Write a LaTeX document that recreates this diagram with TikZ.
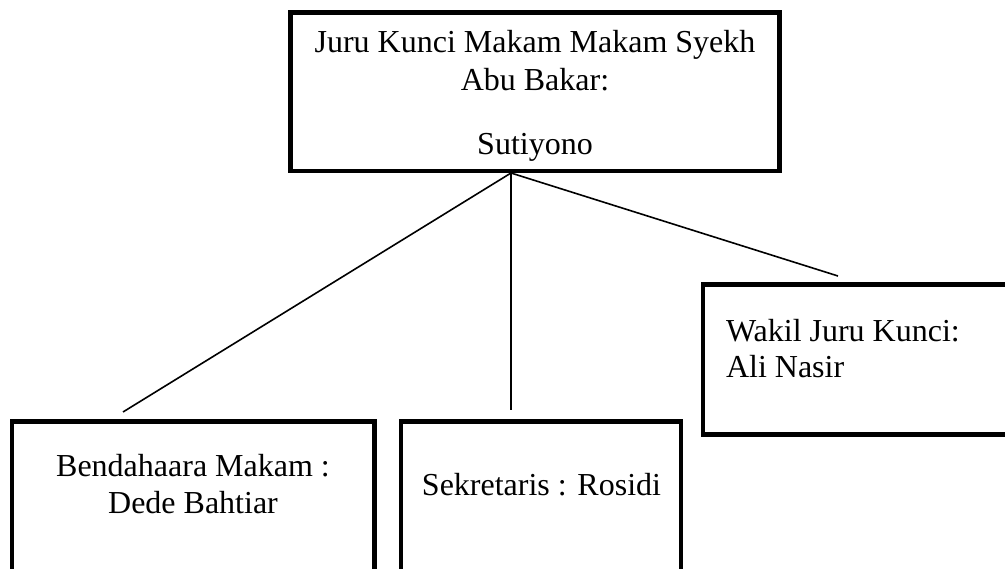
\documentclass[tikz,border=0pt]{standalone}
\usepackage{fontspec}
\setmainfont{Liberation Serif}
\begin{document}
\begin{tikzpicture}[x=1pt,y=-1pt,
  box/.style={draw=black,line width=4.8pt,inner sep=0pt,outer sep=0pt,fill=white},
  txt/.style={inner sep=0pt,outer sep=0pt,anchor=base,font=\fontsize{32}{38}\selectfont},
  link/.style={draw=black,line width=1.6pt}]
\useasboundingbox (0,0) rectangle (1005,569);
\clip (0,0) rectangle (1005,569);
\fill[white] (0,0) rectangle (1005,569);
% boxes
\node[box,minimum width=489pt,minimum height=158.5pt] (top) at (535,91.75) {};
\node[box,minimum width=337pt,minimum height=150pt] (wakil) at (871.5,359.5) {};
\node[box,minimum width=362.5pt,minimum height=178.5pt] (bend) at (193.25,510.75) {};
\node[box,minimum width=280pt,minimum height=178.5pt] (sekr) at (541,510.75) {};
% texts
\node[txt] (t1) at (535,53) {Juru Kunci Makam Makam Syekh};
\node[txt] (t2) at (535,90.7) {Abu Bakar:};
\node[txt] (t3) at (535,155) {Sutiyono};
\node[txt,anchor=base west] (w1t) at (726,342) {Wakil Juru Kunci:};
\node[txt,anchor=base west] (w2t) at (726,378) {Ali Nasir};
\node[txt] (b1t) at (193,477) {Bendahaara Makam :};
\node[txt] (b2t) at (193,513) {Dede Bahtiar};
\node[txt] (s1t) at (541.5,495) {Sekretaris : Rosidi};
% connector ends
\coordinate (j) at (511,173);
\coordinate (eb) at (123,412);
\coordinate (es) at (511,410);
\coordinate (ew) at (838,276);
\draw[link] (j) -- (eb);
\draw[link] (j) -- (es);
\draw[link] (j) -- (ew);
\end{tikzpicture}
\end{document}
